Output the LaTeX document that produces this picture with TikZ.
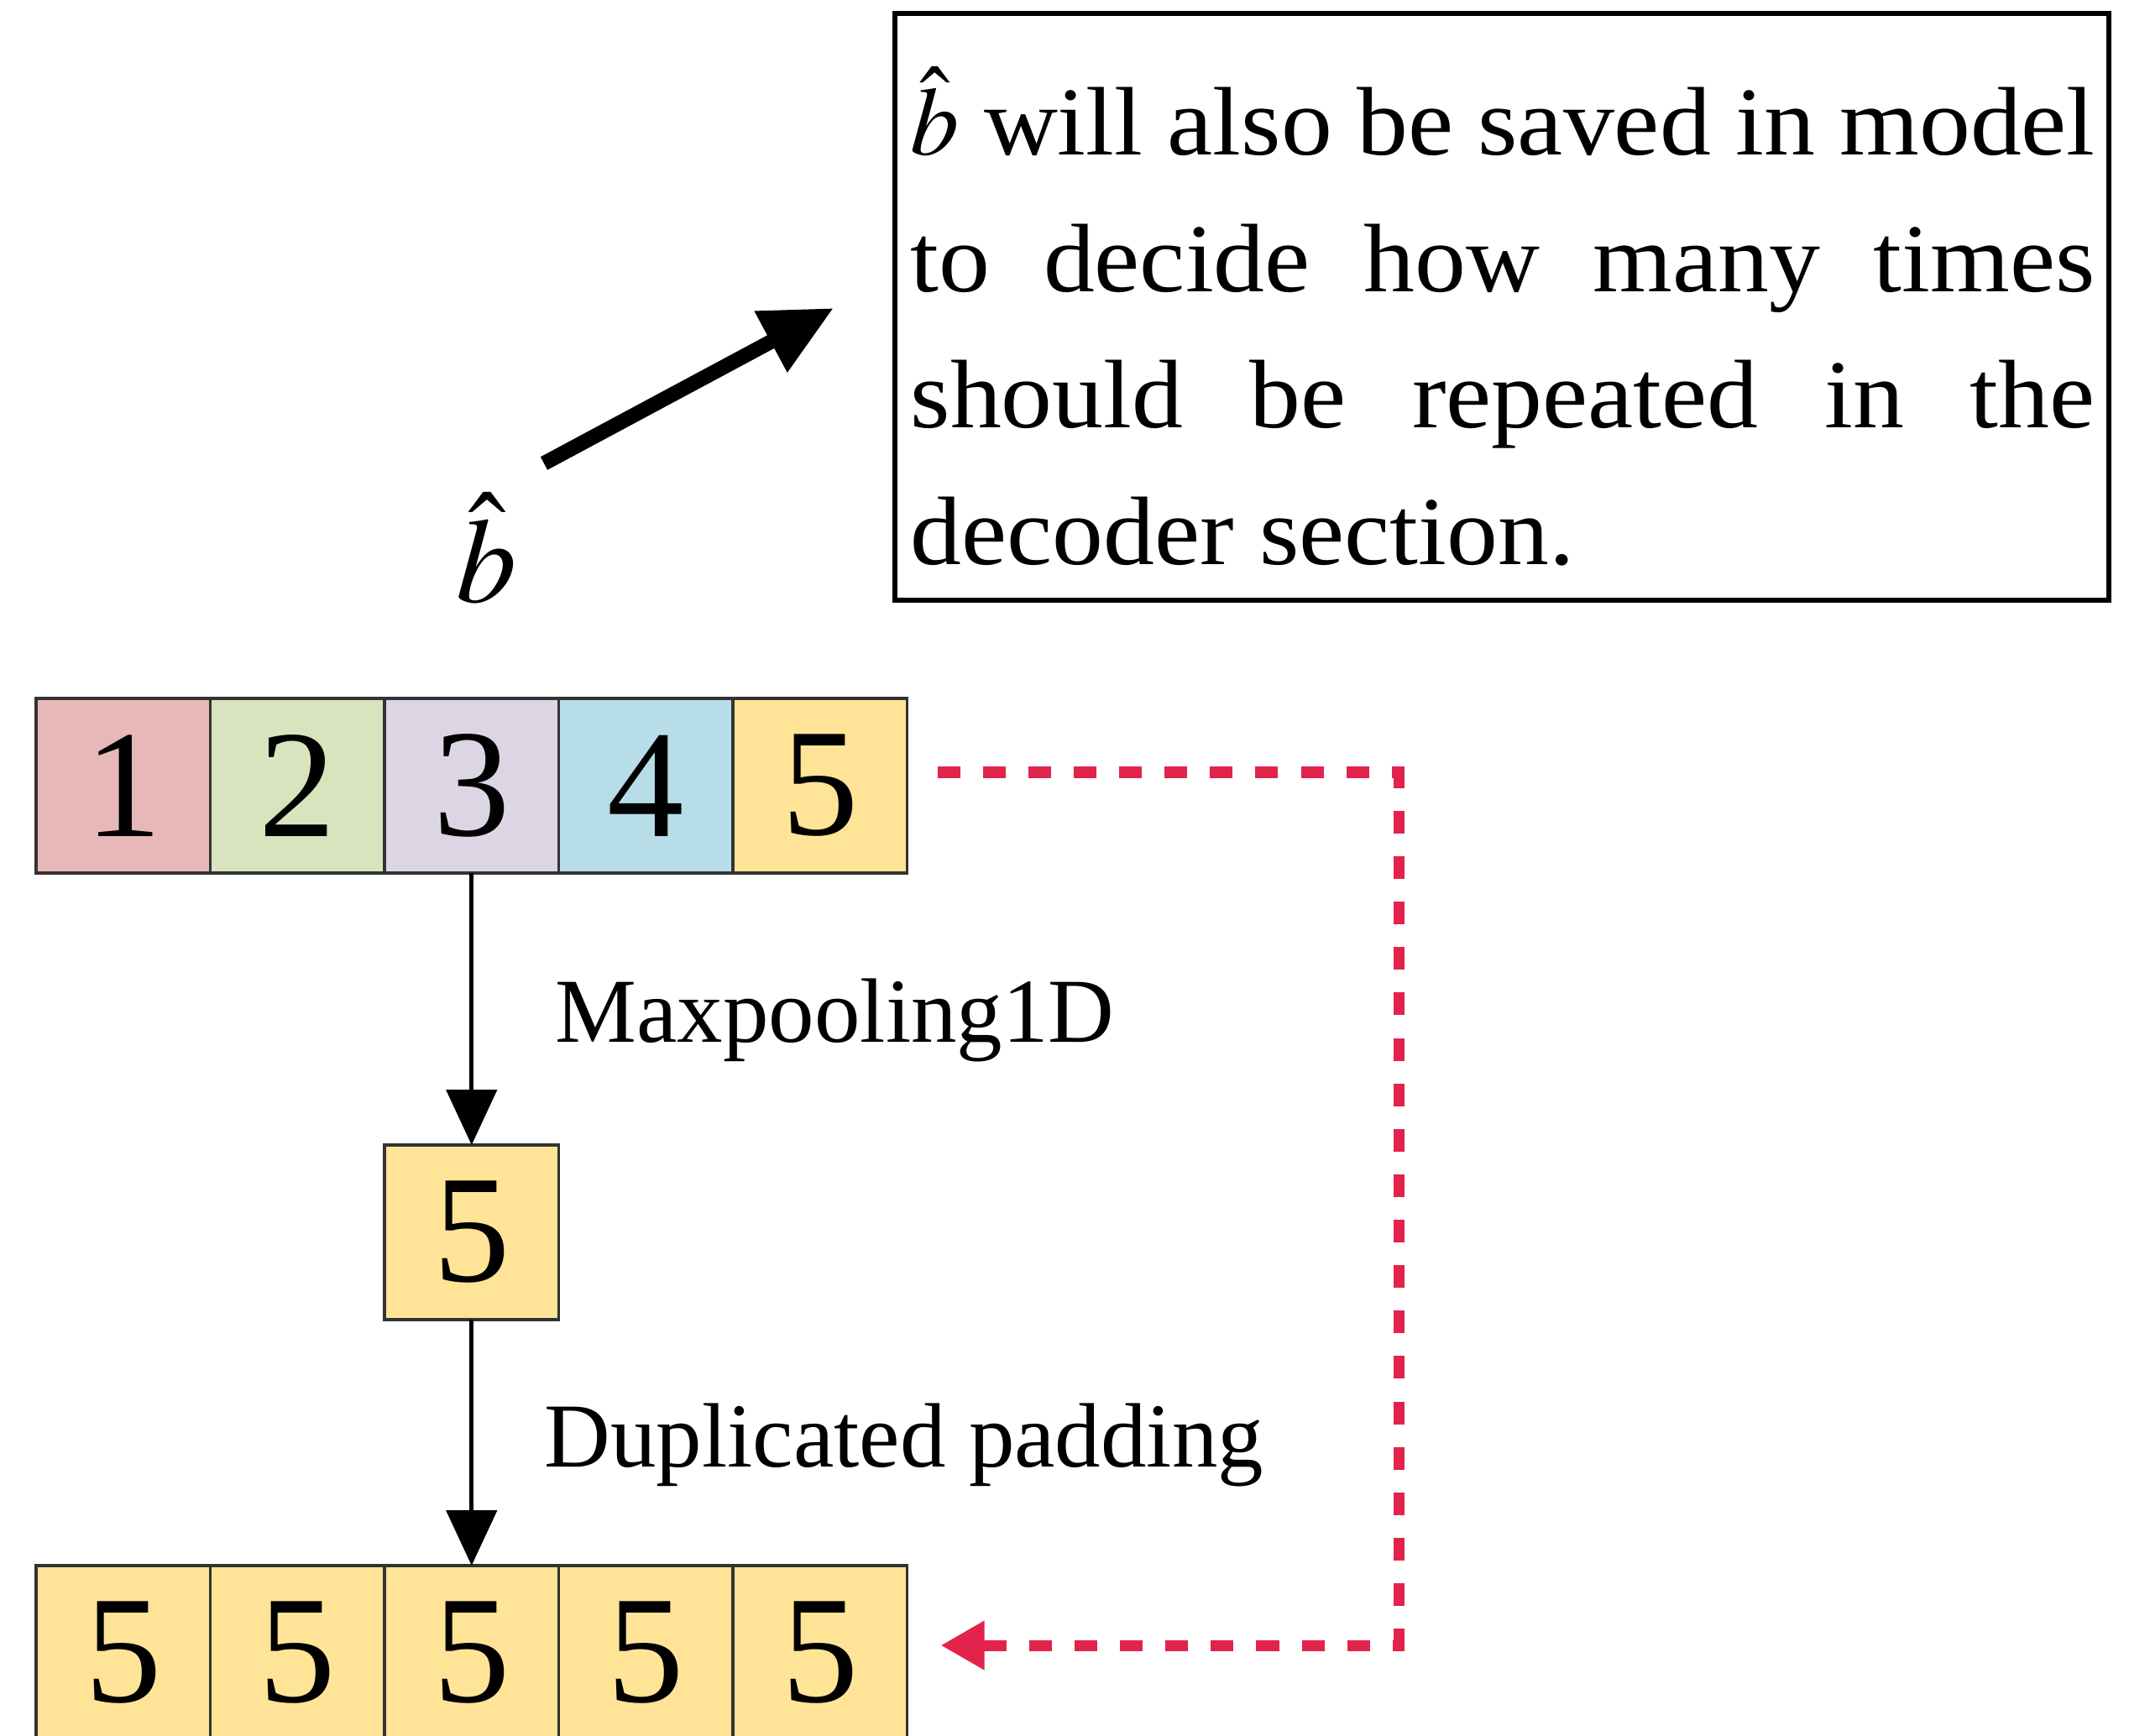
\documentclass[tikz,border=0pt]{standalone}
\usepackage{mathptmx}
\usepackage{fontspec}
\setmainfont{Liberation Serif}
\newfontfamily\notefont[FakeStretch=1.05]{Liberation Serif}
\usetikzlibrary{arrows.meta,calc}

\definecolor{cellred}{HTML}{E6B8B7}
\definecolor{cellgreen}{HTML}{D7E4BD}
\definecolor{cellpurple}{HTML}{DCD6E4}
\definecolor{cellblue}{HTML}{B7DDE8}
\definecolor{cellyellow}{HTML}{FFE497}
\definecolor{cellline}{HTML}{333333}
\definecolor{linkred}{HTML}{E2234B}

\tikzset{
  cell/.style={draw=cellline, line width=1.1pt, minimum width=2.075cm,
    minimum height=2.08cm, inner sep=0pt, outer sep=0pt,
    font=\fontsize{52}{52}\selectfont},
  flowarrow/.style={line width=1.5pt, -{Triangle[length=0.66cm,width=0.6cm]}},
  steplabel/.style={anchor=base west, inner sep=0pt, font=\fontsize{31}{31}\selectfont},
  savearrow/.style={line width=5pt, -{Triangle[length=0.85cm,width=0.78cm]}},
  linkarrow/.style={draw=linkred, line width=3.7pt, dash pattern=on 7.7pt off 7.7pt,
    -{Triangle[length=0.52cm,width=0.55cm,fill=linkred]}},
  notebox/.style={draw, line width=1.85pt, minimum width=14.46cm,
    minimum height=6.99cm, inner sep=0pt}
}

\begin{document}
\begin{tikzpicture}
\useasboundingbox (0,0) rectangle (25.61,-20.68);
\clip (0,0) rectangle (25.61,-20.68);

% input sequence
\node[cell, fill=cellred]    (t1) at (1.4675,-9.36) {1};
\node[cell, fill=cellgreen]  (t2) at (3.5425,-9.36) {2};
\node[cell, fill=cellpurple] (t3) at (5.6175,-9.36) {3};
\node[cell, fill=cellblue]   (t4) at (7.6925,-9.36) {4};
\node[cell, fill=cellyellow] (t5) at (9.7675,-9.36) {5};

% pooled value
\node[cell, fill=cellyellow] (m) at (5.6175,-14.68) {5};

% padded output
\node[cell, fill=cellyellow] (b1) at (1.4675,-19.69) {5};
\node[cell, fill=cellyellow] (b2) at (3.5425,-19.69) {5};
\node[cell, fill=cellyellow] (b3) at (5.6175,-19.69) {5};
\node[cell, fill=cellyellow] (b4) at (7.6925,-19.69) {5};
\node[cell, fill=cellyellow] (b5) at (9.7675,-19.69) {5};

% processing steps
\draw[flowarrow] (t3.south) -- (m.north);
\draw[flowarrow] (m.south) -- (b3.north);
\node[steplabel] (lmax) at (6.61,-12.41) {Maxpooling1D};
\node[steplabel] (ldup) at (6.48,-17.47) {Duplicated padding};

% link from the input maximum to the padded output
\draw[linkarrow] ([xshift=0.36cm,yshift=0.16cm]t5.east) -| (16.66,-14.5)
  |- ([xshift=0.40cm,yshift=0.09cm]b5.east);

% saved scale factor
\node[anchor=base, inner sep=0pt, font=\fontsize{41}{41}\selectfont] (bhat) at (5.80,-7.18) {$\hat{b}$};
\coordinate (sa) at (6.48,-5.52);
\coordinate (sb) at (9.93,-3.67);
\draw[savearrow] (sa) -- (sb);

\node[notebox] (note) at (17.89,-3.655) {};
\node[anchor=north west, inner sep=0pt, text width=14.11cm, align=justify,
  font=\notefont\fontsize{33}{46.2}\selectfont] (notetext) at (10.84,-0.79)
  {\hyphenpenalty=10000
   $\hat{b}$ will also be saved in model\linebreak
   to decide how many times\linebreak
   should be repeated in the\linebreak
   decoder section.};
\end{tikzpicture}
\end{document}
